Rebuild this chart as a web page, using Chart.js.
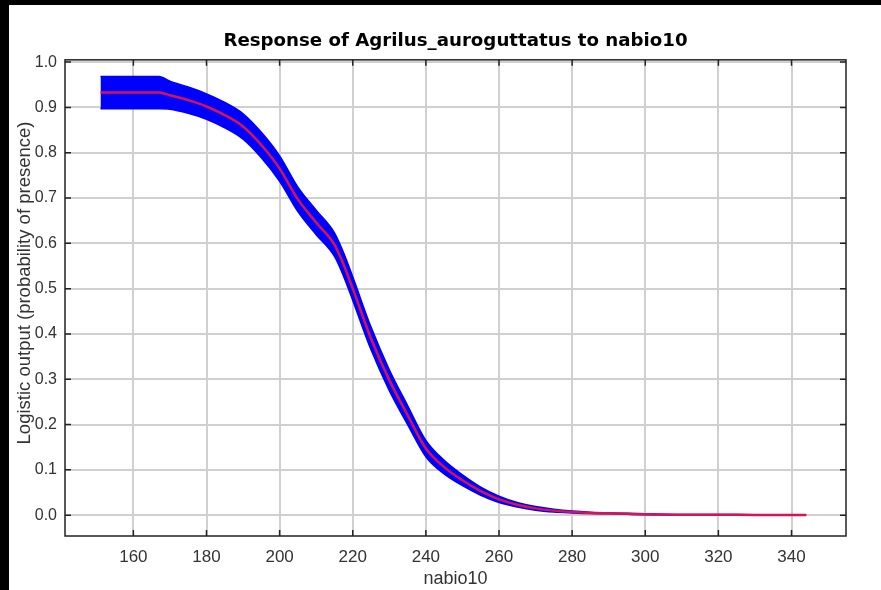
<!DOCTYPE html>
<html>
<head>
<meta charset="utf-8">
<script src="https://cdn.jsdelivr.net/npm/chart.js@4/dist/chart.umd.min.js"></script>
<style>
  html, body { margin: 0; padding: 0; background: #000; }
  #wrap { position: absolute; left: 9px; top: 5px; width: 872px; height: 585px; background: #fff; }
</style>
</head>
<body>
<div id="wrap"><canvas id="curva"></canvas></div>
<script>
// nabio10 values and the response curve (mean with upper / lower band)
const nabio = [151, 155, 160, 167, 170, 175, 180, 185, 190, 195, 200, 205, 210, 215, 217.5, 220, 225, 230, 235, 240, 245,
  250, 255, 260, 265, 270, 275, 280, 285, 290, 295, 300, 310, 320, 330, 344];
const media = [0.933, 0.933, 0.933, 0.933, 0.927, 0.916, 0.902, 0.883, 0.858, 0.817, 0.765, 0.697, 0.646, 0.597, 0.553, 0.500,
  0.390, 0.298, 0.221, 0.147, 0.106, 0.077, 0.053, 0.035, 0.023, 0.015, 0.010, 0.007, 0.005, 0.004, 0.003, 0.002,
  0.001, 0.001, 0.0005, 0.0005];
const superior = [0.968, 0.968, 0.968, 0.968, 0.958, 0.945, 0.930, 0.911, 0.886, 0.845, 0.793, 0.724, 0.673, 0.623, 0.579, 0.526,
  0.415, 0.321, 0.242, 0.165, 0.121, 0.089, 0.062, 0.042, 0.028, 0.019, 0.013, 0.009, 0.0065, 0.005, 0.004, 0.003,
  0.0015, 0.0015, 0.001, 0.001];
const inferior = [0.897, 0.897, 0.897, 0.897, 0.896, 0.887, 0.874, 0.855, 0.830, 0.789, 0.737, 0.670, 0.619, 0.571, 0.527, 0.474,
  0.365, 0.275, 0.200, 0.129, 0.091, 0.065, 0.044, 0.028, 0.018, 0.011, 0.007, 0.005, 0.0035, 0.003, 0.002, 0.001,
  0.0005, 0.0005, 0, 0];

const xTicks = [160, 180, 200, 220, 240, 260, 280, 300, 320, 340];
const yTicks = [0, 0.1, 0.2, 0.3, 0.4, 0.5, 0.6, 0.7, 0.8, 0.9, 1.0];

const pts = arr => nabio.map((x, i) => ({ x: x, y: arr[i] }));

// moldura com marcas de escala para dentro + titulo do eixo y
const moldura = {
  id: 'moldura',
  afterDraw(chart) {
    const { ctx, chartArea: a, scales } = chart;
    ctx.save();
    ctx.strokeStyle = '#222';
    ctx.lineWidth = 1.5;
    ctx.strokeRect(a.left, a.top, a.right - a.left, a.bottom - a.top);
    ctx.beginPath();
    xTicks.forEach(v => {
      const px = scales.x.getPixelForValue(v);
      ctx.moveTo(px, a.bottom); ctx.lineTo(px, a.bottom - 6);
      ctx.moveTo(px, a.top); ctx.lineTo(px, a.top + 6);
    });
    yTicks.forEach(v => {
      const py = scales.y.getPixelForValue(v);
      ctx.moveTo(a.left, py); ctx.lineTo(a.left + 6, py);
      ctx.moveTo(a.right, py); ctx.lineTo(a.right - 6, py);
    });
    ctx.stroke();

    ctx.translate(16, 278);
    ctx.rotate(-Math.PI / 2);
    ctx.font = '18.5px "Liberation Sans"';
    ctx.fillStyle = '#333';
    ctx.textAlign = 'center';
    ctx.textBaseline = 'middle';
    ctx.fillText('Logistic output (probability of presence)', 0, 0);
    ctx.restore();
  }
};

new Chart(document.getElementById('curva'), {
  type: 'line',
  data: {
    datasets: [{
      label: 'média',
      data: pts(media),
      borderColor: 'rgb(215, 20, 80)',
      borderWidth: 2.5,
      pointRadius: 0,
      fill: false,
      cubicInterpolationMode: 'monotone'
    }, {
      label: 'superior',
      data: pts(superior),
      borderColor: '#0000ff',
      backgroundColor: '#0000ff',
      borderWidth: 1.5,
      pointRadius: 0,
      fill: '+1',
      cubicInterpolationMode: 'monotone'
    }, {
      label: 'inferior',
      data: pts(inferior),
      borderColor: '#0000ff',
      borderWidth: 1.5,
      pointRadius: 0,
      fill: false,
      cubicInterpolationMode: 'monotone'
    }]
  },
  options: {
    responsive: true,
    maintainAspectRatio: false,
    animation: false,
    layout: { padding: { left: 0, right: 35, top: 0, bottom: 0 } },
    plugins: {
      legend: { display: false },
      tooltip: { enabled: false },
      title: {
        display: true,
        text: 'Response of Agrilus_auroguttatus to nabio10',
        font: { family: 'DejaVu Sans', size: 18.2, weight: 'bold' },
        color: '#000',
        fullSize: false,
        padding: { top: 25, bottom: 8 }
      }
    },
    scales: {
      x: {
        type: 'linear',
        min: 141.3,
        max: 354.9,
        afterFit: s => { s.height = 54; },
        afterBuildTicks: s => { s.ticks = xTicks.map(v => ({ value: v })); },
        ticks: { font: { family: 'Liberation Sans', size: 17 }, color: '#333', padding: 11, maxRotation: 0, autoSkip: false, callback: v => v },
        grid: { color: '#d0d0d0', lineWidth: 2, drawTicks: false },
        border: { display: false },
        title: { display: true, text: 'nabio10', font: { family: 'Liberation Sans', size: 18 }, color: '#333', padding: { top: 0, bottom: 0 } }
      },
      y: {
        min: -0.046,
        max: 1.005,
        afterFit: s => { s.width = 56; },
        afterBuildTicks: s => { s.ticks = yTicks.map(v => ({ value: v })); },
        ticks: { font: { family: 'Liberation Sans', size: 16 }, color: '#333', padding: 8, callback: v => v.toFixed(1) },
        grid: { color: '#d0d0d0', lineWidth: 2, drawTicks: false },
        border: { display: false }
      }
    }
  },
  plugins: [moldura]
});
</script>
</body>
</html>
